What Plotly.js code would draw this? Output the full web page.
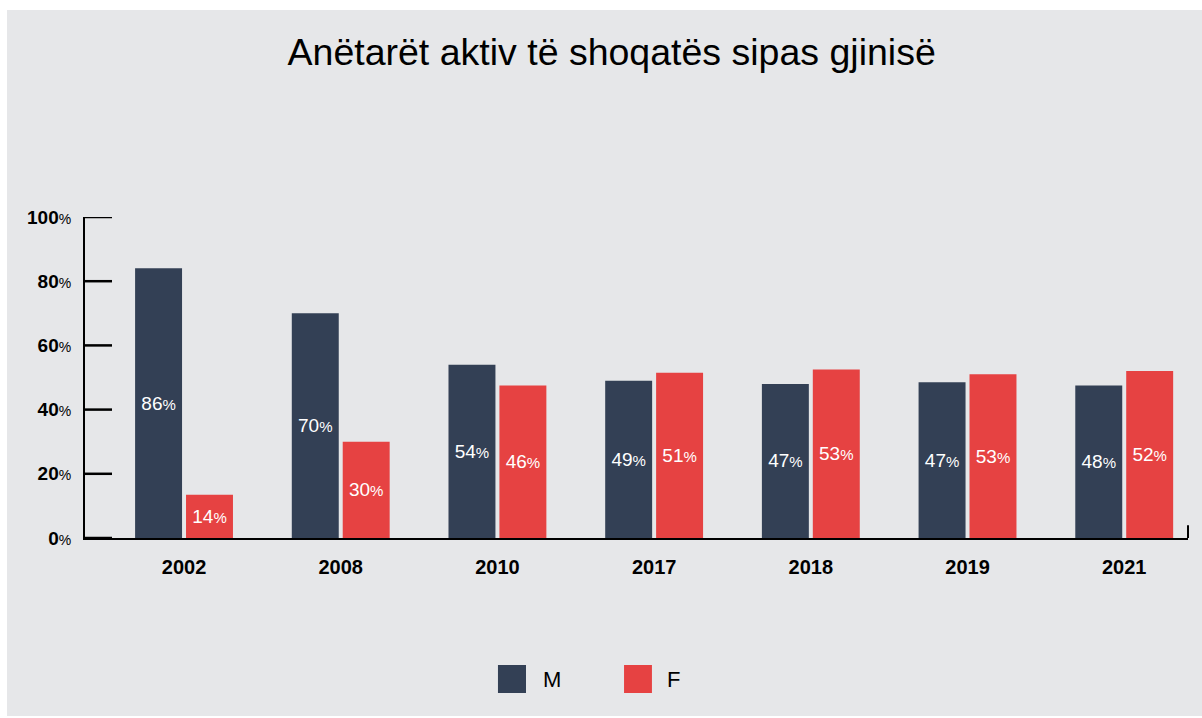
<!DOCTYPE html>
<html>
<head>
<meta charset="utf-8">
<script src="https://cdn.plot.ly/plotly-3.0.1.min.js"></script>
<style>
  html, body { margin: 0; padding: 0; background: #ffffff; width: 1202px; height: 718px; overflow: hidden; }
  #chart { position: absolute; left: 7px; top: 10px; width: 1195px; height: 706px; }
</style>
</head>
<body>
<div id="chart"></div>
<script>
// Data
const years = ['2002', '2008', '2010', '2017', '2018', '2019', '2021'];
// bar heights as drawn (percent)
const maleValues = [84, 70, 54, 49, 48, 48.5, 47.5];
const femaleValues = [13.5, 30, 47.5, 51.5, 52.5, 51, 52];
// labels printed on bars (percent)
const maleLabels = [86, 70, 54, 49, 47, 47, 48];
const femaleLabels = [14, 30, 46, 51, 53, 53, 52];
const yTicks = [0, 20, 40, 60, 80, 100];
const seriesNames = ['M', 'F'];
const colors = ['#334055', '#e64242'];

const FONT = 'Liberation Sans, Arial, Helvetica, sans-serif';
const pct = v => v + '<span style="font-size:15px">%</span>';

const traces = [
  {
    type: 'bar', name: seriesNames[0], x: years, y: maleValues,
    text: maleLabels.map(pct), textposition: 'inside', insidetextanchor: 'middle',
    textangle: 0, constraintext: 'none',
    textfont: { color: '#ffffff', size: 19, family: FONT },
    marker: { color: colors[0] }, hoverinfo: 'skip'
  },
  {
    type: 'bar', name: seriesNames[1], x: years, y: femaleValues,
    text: femaleLabels.map(pct), textposition: 'inside', insidetextanchor: 'middle',
    textangle: 0, constraintext: 'none',
    textfont: { color: '#ffffff', size: 19, family: FONT },
    marker: { color: colors[1] }, hoverinfo: 'skip'
  }
];

const legendY0 = -0.4829, legendY1 = -0.3956;
const tickShapes = yTicks.map(v => ({
  type: 'line', xref: 'paper', yref: 'y', x0: 0, x1: 27 / 1103, y0: v, y1: v,
  line: { color: '#000000', width: 2.5 }
}));

const layout = {
  width: 1195, height: 706,
  paper_bgcolor: '#e6e7e9', plot_bgcolor: 'rgba(0,0,0,0)',
  margin: { l: 78, r: 14, t: 207, b: 178 },
  font: { family: FONT, color: '#000000' },
  title: {
    text: 'Anëtarët aktiv të shoqatës sipas gjinisë',
    font: { size: 37.5, color: '#000000', family: FONT },
    xref: 'container', yref: 'container', x: 0.506, xanchor: 'center',
    y: 0.9405, yanchor: 'middle'
  },
  barmode: 'group', bargap: 0.35, bargroupgap: 0.078,
  showlegend: false,
  xaxis: {
    type: 'category', range: [-0.632, 6.407], fixedrange: true,
    showline: true, linecolor: '#000000', linewidth: 2,
    ticks: '', showgrid: false, zeroline: false,
    tickfont: { size: 20, color: '#000000' },
    tickvals: years, ticktext: years.map(y => '<b>' + y + '</b>'),
    ticklabelstandoff: 10
  },
  yaxis: {
    range: [0, 100], fixedrange: true,
    showline: true, linecolor: '#000000', linewidth: 2,
    ticks: '', showgrid: false, zeroline: false,
    tickvals: yTicks,
    ticktext: yTicks.map(v => '<b>' + v + '</b><span style="font-size:14px">%</span>'),
    tickfont: { size: 19, color: '#000000' },
    ticklabelstandoff: 8
  },
  shapes: tickShapes.concat([
    { type: 'line', xref: 'paper', yref: 'paper', x0: 1, x1: 1, y0: 0, y1: 0.04,
      line: { color: '#000000', width: 2 } },
    { type: 'rect', xref: 'paper', yref: 'paper', x0: 0.3744, x1: 0.3998, y0: legendY0, y1: legendY1,
      fillcolor: colors[0], line: { width: 0 } },
    { type: 'rect', xref: 'paper', yref: 'paper', x0: 0.4887, x1: 0.5140, y0: legendY0, y1: legendY1,
      fillcolor: colors[1], line: { width: 0 } }
  ]),
  annotations: [
    { xref: 'paper', yref: 'paper', x: 0.4134, y: -0.4393, xanchor: 'left', yanchor: 'middle',
      text: seriesNames[0], showarrow: false, font: { size: 22, color: '#000000' } },
    { xref: 'paper', yref: 'paper', x: 0.5258, y: -0.4393, xanchor: 'left', yanchor: 'middle',
      text: seriesNames[1], showarrow: false, font: { size: 22, color: '#000000' } }
  ]
};

Plotly.newPlot('chart', traces, layout, { displayModeBar: false, staticPlot: true });
</script>
</body>
</html>
